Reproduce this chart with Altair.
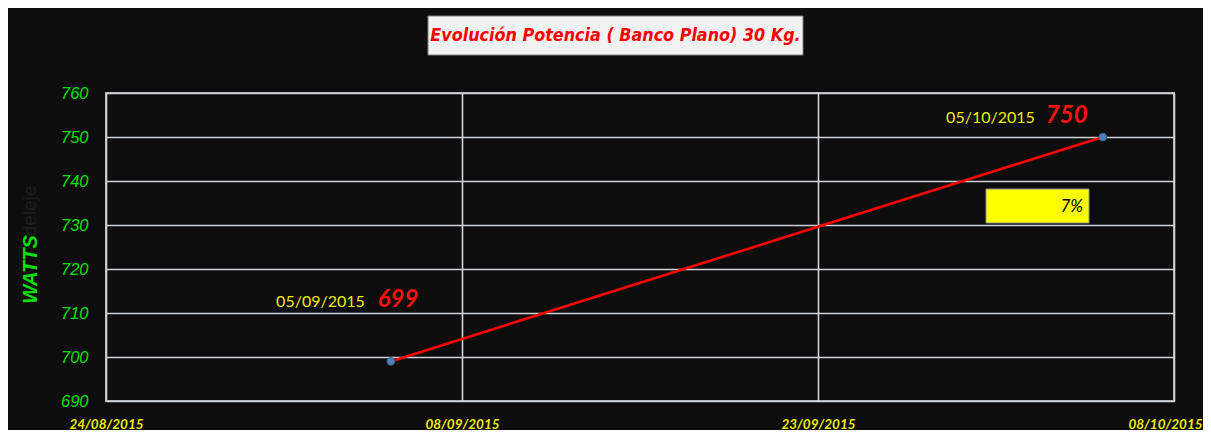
import altair as alt
import pandas as pd

# ---- data ----
dates = ["2015-09-05", "2015-10-05"]
date_labels = ["05/09/2015", "05/10/2015"]
watts = [699, 750]
title_text = "Evolución Potencia ( Banco Plano) 30 Kg."
y_title = "WATTS"
y_title_ghost = "deleje"
x_ticks = [(2015, 8, 24), (2015, 9, 8), (2015, 9, 23), (2015, 10, 8)]
y_ticks = [690, 700, 710, 720, 730, 740, 750, 760]

pct = round((watts[-1] - watts[0]) / watts[0] * 100)
pct_text = f"{pct}%"

df = pd.DataFrame({"fecha": dates, "label": date_labels, "watts": watts})

W, H = 1068, 308
BG = "#0d0d0d"
NARROW = "'DejaVu Sans Condensed', 'Liberation Sans', sans-serif"


def dt(t):
    return alt.DateTime(year=t[0], month=t[1], date=t[2], utc=True)


x_enc = alt.X(
    "fecha:T",
    scale=alt.Scale(type="utc", domain=[dt(x_ticks[0]), dt(x_ticks[-1])], nice=False),
    axis=alt.Axis(
        values=[dt(t) for t in x_ticks],
        labelExpr="utcFormat(datum.value, '%d/%m/%Y')",
        title=None,
        domain=False,
        ticks=False,
        labelColor="#ecec00",
        labelFont="Lato",
        labelFontWeight="bold",
        labelFontStyle="italic",
        labelFontSize=13.5,
        labelBaseline="middle",
        labelPadding=23,
        labelOffset={"condition": {"test": "datum.value > utc(2015, 9, 7)", "value": -9}, "value": 0},
        labelOverlap=False,
        labelFlush=False,
        grid=True,
        gridColor="#d0d3d8",
        gridWidth=1.6,
    ),
)
y_enc = alt.Y(
    "watts:Q",
    scale=alt.Scale(domain=[y_ticks[0], y_ticks[-1]], nice=False, zero=False),
    axis=alt.Axis(
        values=y_ticks,
        title=y_title,
        titleColor="#00e000",
        titleFont="Liberation Sans",
        titleFontWeight="bold",
        titleFontStyle="italic",
        titleFontSize=20,
        titleAngle=270,
        titleX=-76,
        titleY=176,
        titleAlign="center",
        titleBaseline="middle",
        domain=False,
        ticks=False,
        labelColor="#00e000",
        labelFont="Liberation Sans",
        labelFontStyle="italic",
        labelFontSize=16.5,
        labelPadding=18,
        grid=True,
        gridColor="#d0d3d8",
        gridWidth=1.6,
    ),
)

base = alt.Chart(df).encode(x=x_enc, y=y_enc)

line = base.mark_line(color="#ff0000", strokeWidth=2.6)
points = base.mark_point(filled=True, size=60, color="#4f81bd", stroke="#385d8a",
                         strokeWidth=1, opacity=1)

offsets = {
    "05/09/2015": dict(date_dx=-26, val_dx=-13, dy=-54),
    "05/10/2015": dict(date_dx=-68, val_dx=-57, dy=-14),
}

label_layers = []
for lab, o in offsets.items():
    sel = base.transform_filter(alt.datum.label == lab)
    label_layers.append(
        sel.mark_text(align="right", baseline="alphabetic", dx=o["date_dx"], dy=o["dy"],
                      color="#ecec00", font="Lato", fontSize=16).encode(text="label:N")
    )
    label_layers.append(
        sel.mark_text(align="left", baseline="alphabetic", dx=o["val_dx"], dy=o["dy"],
                      color="#ff1010", font="Lato", fontStyle="italic", fontWeight="bold",
                      fontSize=24).encode(text="watts:Q")
    )

# title box
title_data = alt.Data(values=[{"t": title_text}])
title_box = alt.Chart(title_data).mark_rect(fill="#f2f2f2", stroke="#7f7f7f", strokeWidth=1).encode(
    x=alt.value(322), x2=alt.value(697), y=alt.value(-77), y2=alt.value(-38)
)
title_txt = alt.Chart(title_data).mark_text(
    align="center", baseline="middle", color="#ff0000", font=NARROW,
    fontWeight="bold", fontStyle="italic", fontSize=17.8
).encode(x=alt.value(509.5), y=alt.value(-57), text="t:N")

# ghost axis-title remnant
ghost = alt.Chart(alt.Data(values=[{"t": y_title_ghost}])).mark_text(
    align="center", baseline="middle", angle=270, color="#1e1e1e",
    font="Liberation Sans", fontSize=19
).encode(x=alt.value(-76), y=alt.value(118), text="t:N")

# percentage box
pct_data = alt.Data(values=[{"t": pct_text}])
pct_box = alt.Chart(pct_data).mark_rect(fill="#ffff00", stroke="#8c8c8c", strokeWidth=1).encode(
    x=alt.value(880), x2=alt.value(983), y=alt.value(96), y2=alt.value(130)
)
pct_txt = alt.Chart(pct_data).mark_text(
    align="right", baseline="middle", color="#000000", font="Lato",
    fontStyle="italic", fontSize=17
).encode(x=alt.value(977), y=alt.value(114), text="t:N")

chart = alt.layer(
    line, points, *label_layers, title_box, title_txt, ghost, pct_box, pct_txt
).properties(
    width=W, height=H,
    autosize=alt.AutoSizeParams(type="none"),
    padding={"left": 98, "top": 85, "right": 29, "bottom": 29},
    background=BG,
).configure_view(
    stroke="#b0b0b0", strokeWidth=2, fill=BG
)

chart.save("out.html", embed_options={"renderer": "svg", "actions": False})
